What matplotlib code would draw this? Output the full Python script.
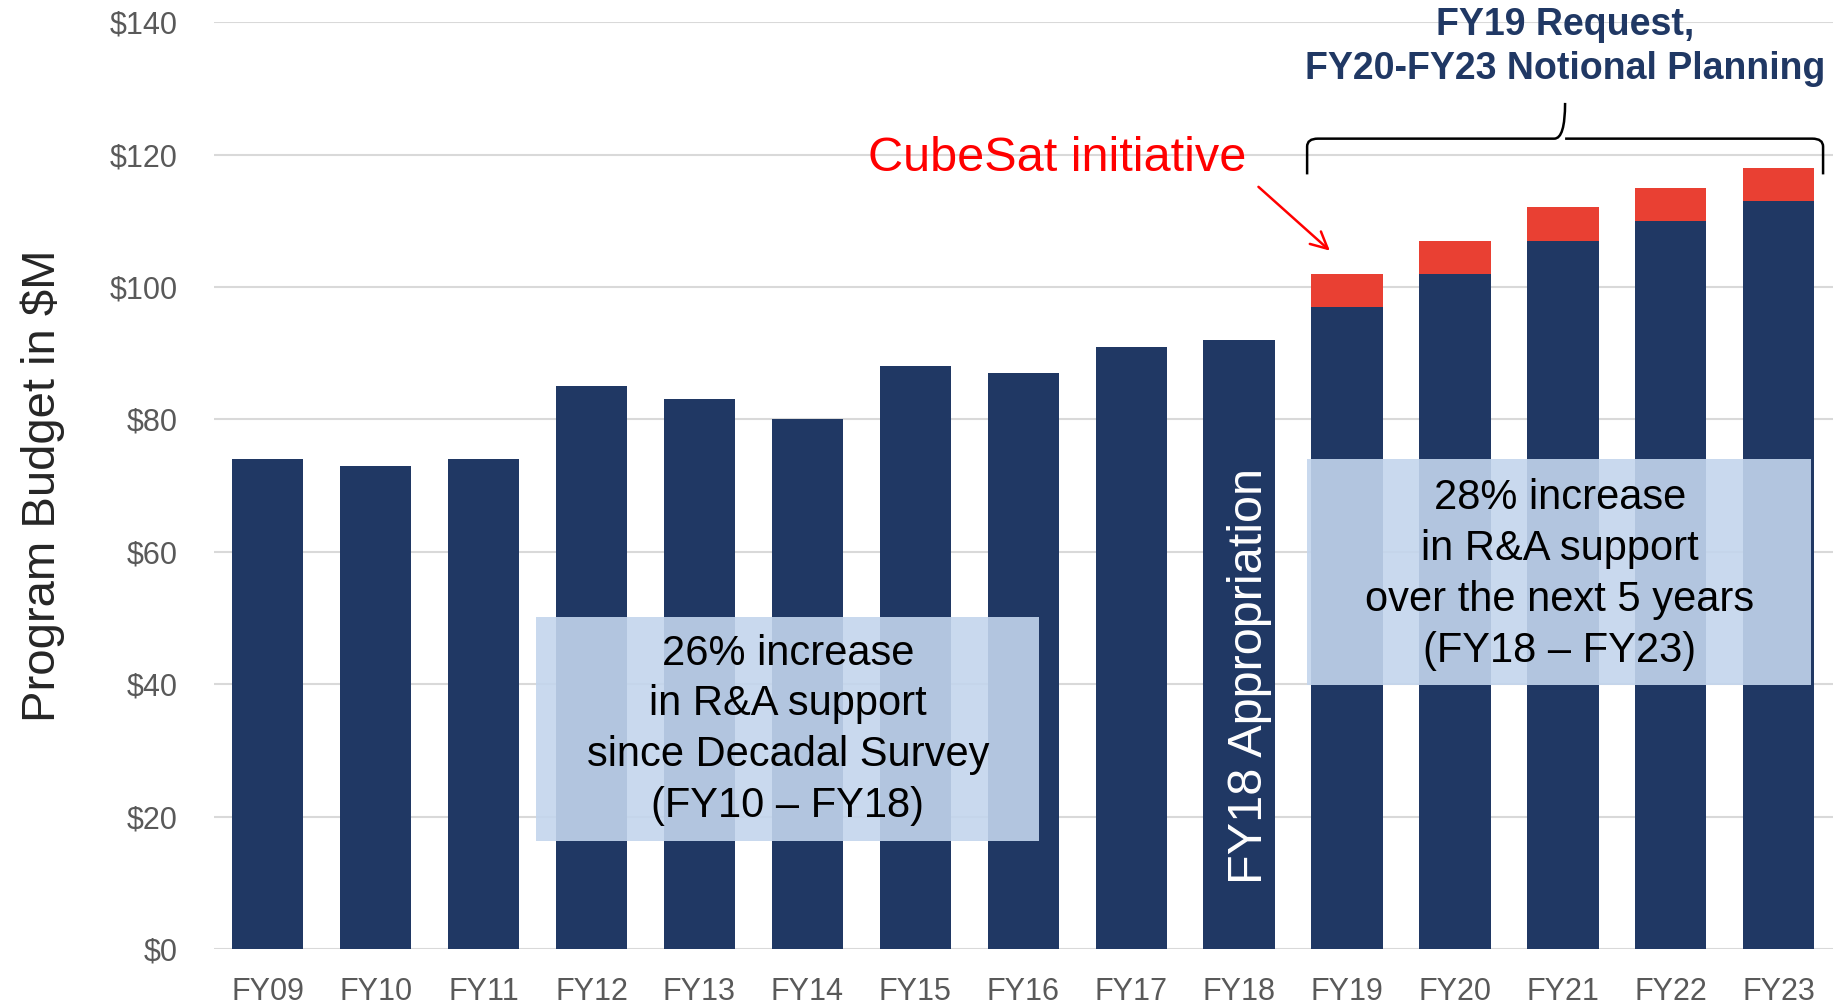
import numpy as np
import matplotlib.pyplot as plt
from matplotlib.path import Path
from matplotlib.patches import PathPatch, Rectangle

plt.rcParams['font.family'] = ['Liberation Sans', 'DejaVu Sans']

years = ['FY09', 'FY10', 'FY11', 'FY12', 'FY13', 'FY14', 'FY15', 'FY16',
         'FY17', 'FY18', 'FY19', 'FY20', 'FY21', 'FY22', 'FY23']
base = [74, 73, 74, 85, 83, 80, 88, 87, 91, 92, 97, 102, 107, 110, 113]
cubesat = [0, 0, 0, 0, 0, 0, 0, 0, 0, 0, 5, 5, 5, 5, 5]

navy = '#203864'
red = '#E94033'
grey = '#595959'
boxcol = '#C3D5ED'

fig = plt.figure(figsize=(18.42, 10.06), dpi=100)
ax = fig.add_axes([0.116, 0.0567, 0.879, 0.9213])

x = np.arange(len(years))
ax.bar(x, base, width=0.66, color=navy, zorder=2)
ax.bar(x, cubesat, bottom=base, width=0.66, color=red, zorder=2)

ax.set_xlim(-0.5, 14.5)
ax.set_ylim(0, 140)
ax.set_yticks(np.arange(0, 141, 20))
ax.set_yticklabels(['$%d' % v for v in range(0, 141, 20)])
ax.set_xticks(x)
ax.set_xticklabels(years)
ax.tick_params(length=0, labelsize=22, labelcolor=grey)
ax.tick_params(axis='x', pad=20)
ax.tick_params(axis='y', pad=26)
ax.grid(axis='y', color='#D9D9D9', lw=1.5, zorder=0)
for s in ax.spines.values():
    s.set_visible(False)
ax.set_ylabel('Program Budget in $M', fontsize=34, color='#262626', labelpad=32)

# text boxes
ax.add_patch(Rectangle((2.49, 16.3), 4.66, 33.9, facecolor=boxcol,
                       alpha=0.9, edgecolor='none', zorder=3))
ax.text(4.82, 33.1, '26% increase\nin R&A support\nsince Decadal Survey\n(FY10 \u2013 FY18)',
        ha='center', va='center', fontsize=30, color='black',
        linespacing=1.35, zorder=4)
ax.add_patch(Rectangle((9.63, 39.9), 4.67, 34.1, facecolor=boxcol,
                       alpha=0.9, edgecolor='none', zorder=3))
ax.text(11.97, 56.6, '28% increase\nin R&A support\nover the next 5 years\n(FY18 \u2013 FY23)',
        ha='center', va='center', fontsize=30, color='black',
        linespacing=1.35, zorder=4)

ax.text(9.1, 41.3, 'FY18 Appropriation', rotation=90, ha='center', va='center',
        fontsize=35, color='white', zorder=4)

# CubeSat label and arrow
ax.text(7.31, 119.4, 'CubeSat initiative', ha='center', va='center',
        fontsize=35, color='#FF0000', zorder=4)
ax.annotate('', xy=(9.86, 105.2), xytext=(9.16, 115.4),
            arrowprops=dict(arrowstyle='->', color='#FF0000', lw=1.8,
                            mutation_scale=30), zorder=4)

# bracket
xl, xr, xc = 9.63, 14.41, 12.02
yb, yh, yt = 117.0, 122.4, 127.8
verts = [(xl, yb), (xl, yh - 1.2), (xl, yh), (xl + 0.1, yh),
         (xc - 0.1, yh), (xc, yh), (xc, yt),
         (xc, yh), (xc + 0.1, yh),
         (xr - 0.1, yh), (xr, yh), (xr, yh - 1.2), (xr, yb)]
codes = [Path.MOVETO, Path.LINETO, Path.CURVE3, Path.CURVE3,
         Path.LINETO, Path.CURVE3, Path.CURVE3,
         Path.MOVETO, Path.LINETO,
         Path.LINETO, Path.CURVE3, Path.CURVE3, Path.LINETO]
ax.add_patch(PathPatch(Path(verts, codes), facecolor='none', edgecolor='black',
                       lw=1.8, clip_on=False, zorder=4))

ax.text(12.02, 136.2, 'FY19 Request,\nFY20-FY23 Notional Planning',
        ha='center', va='center', fontsize=27, fontweight='bold', color=navy,
        linespacing=1.3, clip_on=False, zorder=4)

fig.savefig('out.png', dpi=100)
